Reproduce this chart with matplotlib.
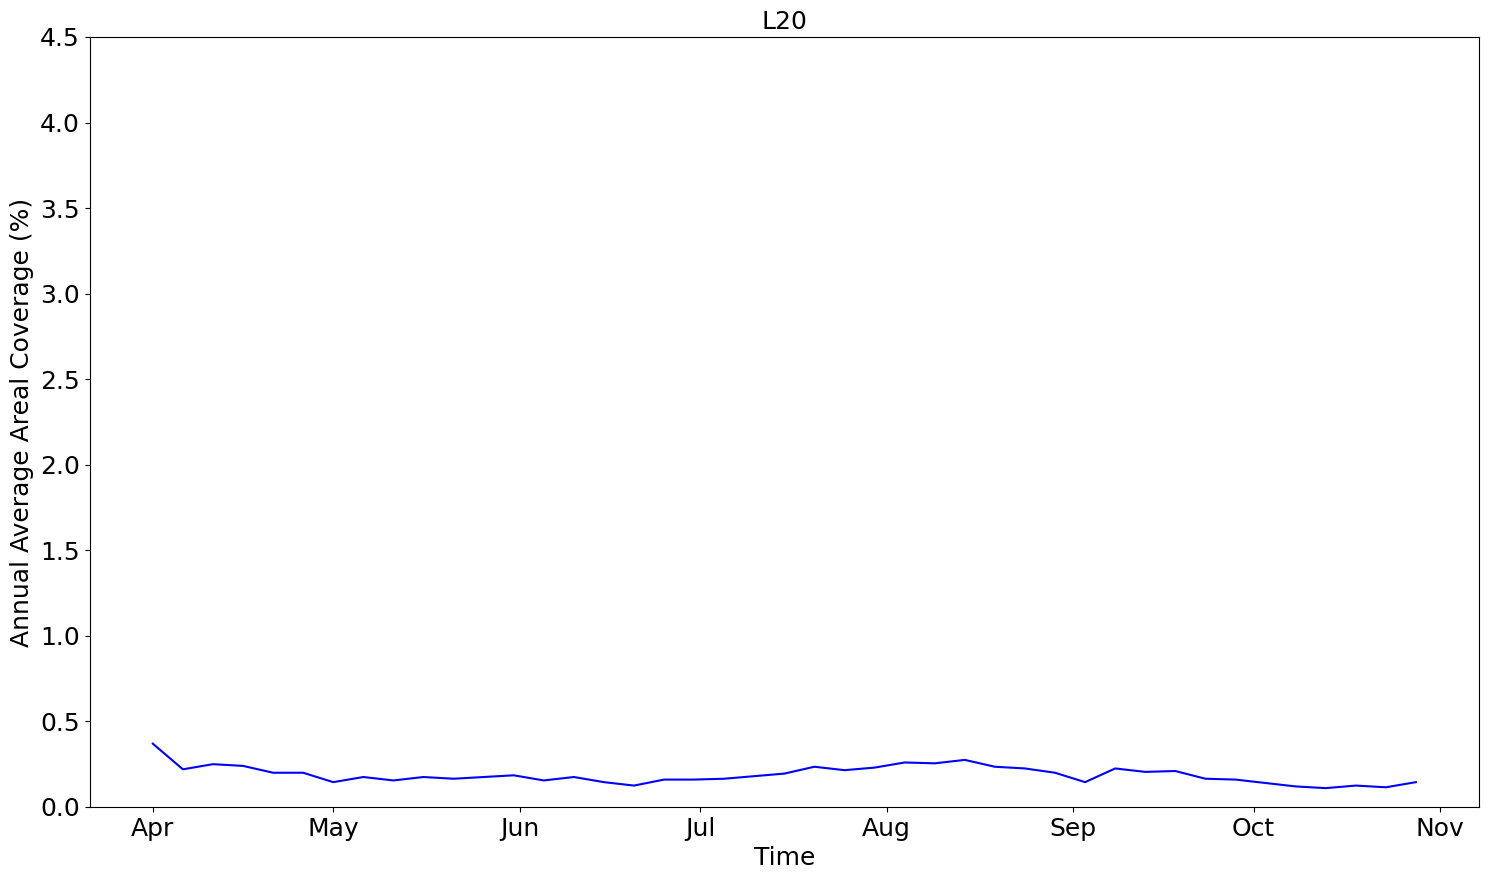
import numpy as np
import pandas
import matplotlib
matplotlib.use("Agg")
import matplotlib.pyplot as plt
import matplotlib.dates as mdates

# 5-day sampled coverage, Apr 1 .. Oct 28
DATES = pandas.date_range("2021-04-01", periods=43, freq="5D")
COVERAGE = [0.37, 0.22, 0.25, 0.24, 0.20, 0.20, 0.145, 0.175, 0.155, 0.175,
            0.165, 0.175, 0.185, 0.155, 0.175, 0.145, 0.125, 0.16, 0.16, 0.165,
            0.18, 0.195, 0.235, 0.215, 0.23, 0.26, 0.255, 0.275, 0.235, 0.225,
            0.20, 0.145, 0.225, 0.205, 0.21, 0.165, 0.16, 0.14, 0.12, 0.11,
            0.125, 0.115, 0.145]

fig, ax = plt.subplots(figsize=(14.94, 8.8), dpi=100)
ax.plot(DATES, COVERAGE, color="blue")
ax.set_ylim(0, 4.5)
ax.xaxis.set_major_locator(mdates.MonthLocator())
ax.xaxis.set_major_formatter(mdates.DateFormatter("%b"))
ax.tick_params(axis="both", which="major", labelsize=18)
ax.set_xlabel("Time", fontsize=18)
ax.set_ylabel("Annual Average Areal Coverage (%)", fontsize=18)
ax.set_title("L20", fontsize=18)
plt.subplots_adjust(left=0.06, right=0.99, top=0.958, bottom=0.083)
plt.savefig("out.png")
